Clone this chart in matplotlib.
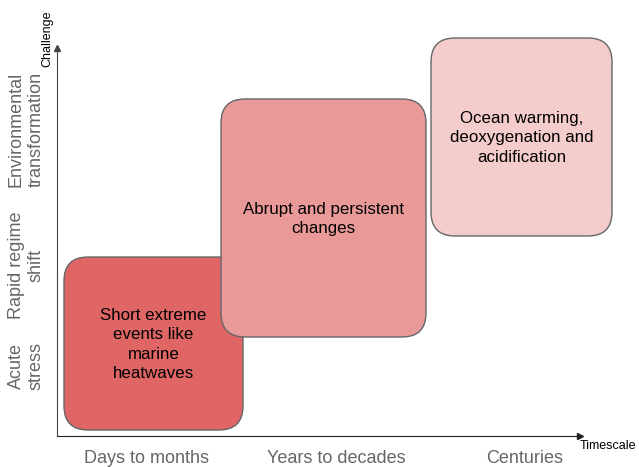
import matplotlib.pyplot as plt
from matplotlib.patches import FancyBboxPatch

plt.rcParams['font.family'] = ['Liberation Sans', 'DejaVu Sans']

# axis categories
timescales = ["Days to months", "Years to decades", "Centuries"]
challenges = ["Acute\nstress", "Rapid regime\nshift", "Environmental\ntransformation"]
time_pos = [90, 279, 468]
challenge_pos = [70, 171, 307]

# boxes: extent on timescale and challenge axes
box_text = ["Short extreme\nevents like\nmarine\nheatwaves",
            "Abrupt and persistent\nchanges",
            "Ocean warming,\ndeoxygenation and\nacidification"]
t_start = [7, 164, 374]
t_end = [186, 369, 555]
c_low = [6, 99, 200]
c_high = [179, 337, 398]
colours = ["#e06666", "#ea9999", "#f4cccc"]

fig = plt.figure(figsize=(6.39, 4.67), dpi=100)
ax = fig.add_axes([57 / 639, 31 / 467, 523 / 639, 388 / 467])
ax.set_xlim(0, 523)
ax.set_ylim(0, 388)

for i in range(len(box_text)):
    w = t_end[i] - t_start[i]
    h = c_high[i] - c_low[i]
    p = FancyBboxPatch((t_start[i], c_low[i]), w, h,
                       boxstyle="round,pad=0,rounding_size=24",
                       fc=colours[i], ec="#666666", lw=1, clip_on=False, zorder=2)
    ax.add_patch(p)
    ax.text(t_start[i] + w / 2, c_low[i] + h / 2 - 1, box_text[i], ha="center", va="center",
            fontsize=12.2, color="black", linespacing=1.35, zorder=3)

for s in ["top", "right"]:
    ax.spines[s].set_visible(False)
ax.spines["left"].set_color("#444444")
ax.spines["bottom"].set_color("#222222")
ax.plot(1, 0, ">", color="#222222", ms=4, transform=ax.transAxes, clip_on=False)
ax.plot(0, 1, "^", color="#444444", ms=4, transform=ax.transAxes, clip_on=False)

ax.set_xticks(time_pos, timescales, fontsize=13, color="#666666")
ax.set_yticks(challenge_pos, challenges, fontsize=13, color="#666666",
              rotation=90, va="center", multialignment="center")
ax.tick_params(length=0)
ax.tick_params(axis="x", pad=10)
ax.tick_params(axis="y", pad=9)

ax.text(523, -4, "Timescale", fontsize=9, va="top", ha="left", clip_on=False)
ax.text(-10, 397, "Challenge", fontsize=9, rotation=90,
        va="center", ha="center", clip_on=False)

fig.savefig("out.png", dpi=100)
